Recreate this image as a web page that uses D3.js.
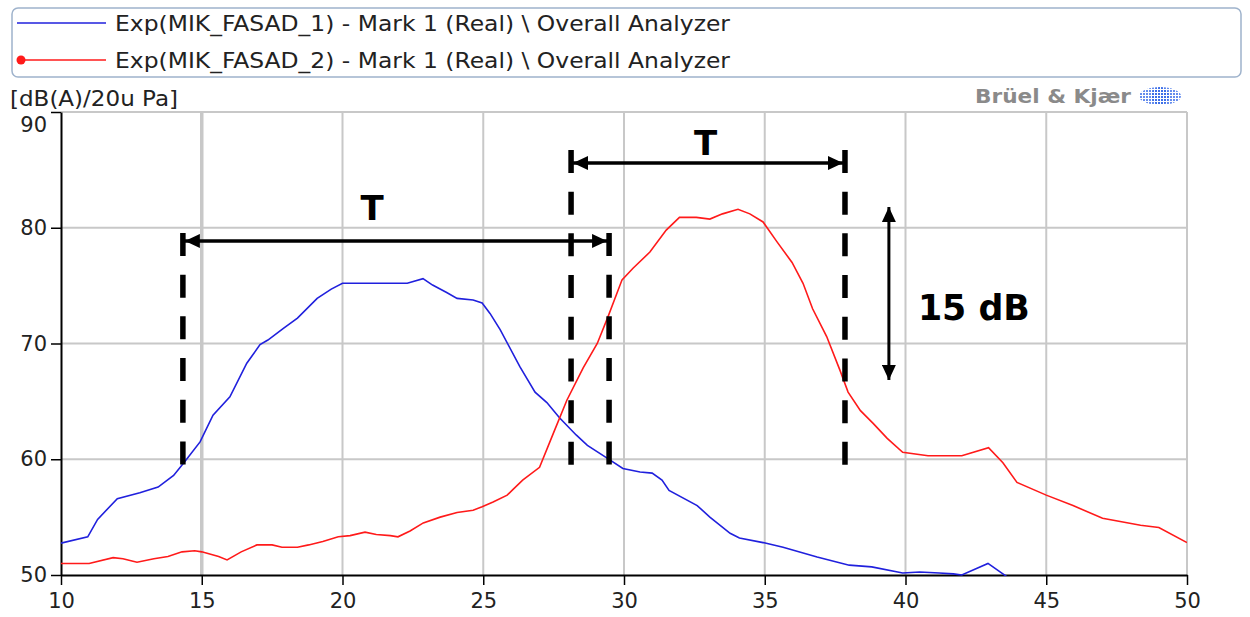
<!DOCTYPE html>
<html>
<head>
<meta charset="utf-8">
<script src="https://cdn.jsdelivr.net/npm/d3@7"></script>
<style>
  body { margin: 0; background: #fff; }
  text { font-family: "DejaVu Sans", sans-serif; }
</style>
</head>
<body>
<div class="d3-container"></div>
<script>
// series 1 (blue) - x in seconds, y in dB(A)
const blueX = [10.0, 10.95, 11.3, 12.0, 12.8, 13.45, 14.0, 14.4, 14.94, 15.4, 16.0, 16.6, 17.07, 17.35, 17.9, 18.4, 19.1, 19.6, 20.0, 22.3, 22.86, 23.2, 23.7, 24.07, 24.64, 24.96, 25.24, 25.6, 26.3, 26.84, 27.26, 27.7, 28.3, 28.7, 29.4, 29.96, 30.57, 31.0, 31.35, 31.6, 32.6, 33.05, 33.77, 34.1, 34.94, 35.65, 36.86, 38.0, 38.8, 39.9, 40.5, 41.2, 41.7, 42.0, 42.93, 43.46, 43.8];
const blueY = [52.75, 53.3, 54.8, 56.6, 57.1, 57.6, 58.6, 59.8, 61.5, 63.8, 65.4, 68.3, 69.9, 70.3, 71.3, 72.2, 73.9, 74.7, 75.2, 75.2, 75.6, 75.05, 74.4, 73.9, 73.76, 73.5, 72.6, 71.2, 68.0, 65.8, 64.9, 63.6, 62.1, 61.2, 60.1, 59.2, 58.9, 58.8, 58.2, 57.3, 56.0, 55.0, 53.6, 53.2, 52.8, 52.4, 51.55, 50.85, 50.7, 50.17, 50.26, 50.17, 50.1, 50.0, 51.0, 50.1, 49.5];

// series 2 (red)
const redX = [10.0, 11.0, 11.85, 12.2, 12.7, 13.3, 13.8, 14.3, 14.75, 15.0, 15.6, 15.9, 16.4, 16.96, 17.5, 17.85, 18.4, 18.8, 19.3, 19.85, 20.27, 20.8, 21.2, 21.7, 21.97, 22.4, 22.87, 23.47, 24.07, 24.64, 24.96, 25.35, 25.85, 26.06, 26.4, 27.0, 27.5, 27.97, 28.55, 29.05, 29.43, 29.93, 30.32, 30.92, 31.5, 31.97, 32.57, 33.05, 33.5, 34.05, 34.47, 34.94, 35.43, 35.97, 36.36, 36.7, 37.2, 37.67, 37.96, 38.4, 38.85, 39.35, 39.9, 40.8, 42.0, 42.95, 43.46, 43.96, 45.0, 45.95, 47.0, 48.35, 49.0, 50.0];
const redY = [51.0, 51.0, 51.5, 51.4, 51.1, 51.4, 51.6, 52.0, 52.1, 52.0, 51.6, 51.3, 52.0, 52.6, 52.6, 52.4, 52.4, 52.6, 52.9, 53.3, 53.4, 53.7, 53.5, 53.4, 53.3, 53.8, 54.5, 55.0, 55.4, 55.6, 55.9, 56.3, 56.9, 57.4, 58.2, 59.3, 62.3, 65.1, 67.9, 70.0, 72.3, 75.5, 76.5, 77.9, 79.8, 80.9, 80.9, 80.75, 81.2, 81.6, 81.2, 80.5, 78.8, 77.0, 75.2, 73.0, 70.6, 67.7, 65.8, 64.2, 63.1, 61.8, 60.6, 60.3, 60.3, 61.0, 59.7, 58.0, 56.9, 56.0, 54.9, 54.3, 54.1, 52.8];

const seriesNames = [
  "Exp(MIK_FASAD_1) - Mark 1 (Real) \\ Overall Analyzer",
  "Exp(MIK_FASAD_2) - Mark 1 (Real) \\ Overall Analyzer"
];
const xTicks = [10, 15, 20, 25, 30, 35, 40, 45, 50];
const yTicks = [50, 60, 70, 80, 90];
const yUnit = "[dB(A)/20u Pa]";

// annotations, in data units
const dashX = [14.33, 28.12, 29.47, 37.85];
const dashTop = [79.55, 86.72, 79.55, 86.72];
const dashBottom = [59.33, 59.33, 59.33, 59.33];
const spanFrom = [14.33, 28.12];
const spanTo = [29.47, 37.85];
const spanY = [78.86, 85.59];
const spanLabelX = [21.05, 32.9];
const spanLabelY = [81.7, 87.3];
const dbArrowX = 39.41, dbArrowTop = 81.79, dbArrowBottom = 66.85;
const dbLabel = "15 dB", dbLabelX = 40.44, dbLabelY = 73.07;

const W = 1250, H = 617;
const margin = {top: 112, right: 63, bottom: 42, left: 61};
const width = W - margin.left - margin.right,
      height = H - margin.top - margin.bottom;

const root = d3.select(".d3-container").append("svg")
  .attr("width", W).attr("height", H);

const defs = root.append("defs");
defs.append("marker").attr("id", "head")
  .attr("viewBox", "0 0 15 14").attr("refX", 15).attr("refY", 7)
  .attr("markerWidth", 15).attr("markerHeight", 14)
  .attr("markerUnits", "userSpaceOnUse")
  .attr("orient", "auto-start-reverse")
  .append("path").attr("d", "M0,0L15,7L0,14Z").attr("fill", "#000");
const pat = defs.append("pattern").attr("id", "dots")
  .attr("width", 3).attr("height", 3).attr("patternUnits", "userSpaceOnUse");
pat.append("rect").attr("width", 2).attr("height", 2).attr("fill", "#3d6fe8");
defs.append("clipPath").attr("id", "plotclip")
  .append("rect").attr("width", width).attr("height", height + 1);

// legend
root.append("rect").attr("x", 12).attr("y", 8).attr("width", 1229).attr("height", 69)
  .attr("rx", 6).attr("fill", "#fff").attr("stroke", "#9fb3cc").attr("stroke-width", 1.5);
const legendColors = ["#2020dd", "#ff1a1a"];
const legendY = [23, 60];
seriesNames.forEach((name, i) => {
  root.append("line").attr("x1", 17).attr("x2", 106)
    .attr("y1", legendY[i]).attr("y2", legendY[i])
    .attr("stroke", legendColors[i]).attr("stroke-width", 1.5);
  if (i === 1) root.append("circle").attr("cx", 21).attr("cy", legendY[i]).attr("r", 4.5).attr("fill", legendColors[i]);
  root.append("text").attr("x", 115).attr("y", legendY[i] + 8)
    .attr("font-size", 22).attr("fill", "#222")
    .attr("textLength", 615).attr("lengthAdjust", "spacingAndGlyphs")
    .text(name);
});

root.append("text").attr("x", 10).attr("y", 106).attr("font-size", 22).attr("fill", "#222")
  .attr("textLength", 168).attr("lengthAdjust", "spacingAndGlyphs").text(yUnit);

// Bruel & Kjaer logo
root.append("text").attr("x", 1131).attr("y", 103).attr("text-anchor", "end")
  .attr("font-size", 20).attr("font-weight", "bold").attr("fill", "#8a8a8a")
  .attr("textLength", 156).attr("lengthAdjust", "spacingAndGlyphs")
  .text("Brüel & Kjær");
root.append("ellipse").attr("cx", 1160).attr("cy", 96).attr("rx", 21).attr("ry", 9)
  .attr("fill", "url(#dots)").attr("opacity", 0.8);
root.append("ellipse").attr("cx", 1160).attr("cy", 96).attr("rx", 9).attr("ry", 9)
  .attr("fill", "url(#dots)");

const svg = root.append("g").attr("transform", `translate(${margin.left},${margin.top})`);

const x = d3.scaleLinear().domain([10, 50]).range([0, width]);
const y = d3.scaleLinear().domain([50, 90]).range([height, 0]);

// grid
svg.append("g").selectAll("line").data(xTicks.slice(1)).join("line")
  .attr("x1", d => x(d)).attr("x2", d => x(d)).attr("y1", 0).attr("y2", height)
  .attr("stroke", "#c8c8c8").attr("stroke-width", d => d === 15 ? 3.5 : 2);
svg.append("g").selectAll("line").data(yTicks.slice(1)).join("line")
  .attr("x1", 0).attr("x2", width).attr("y1", d => y(d)).attr("y2", d => y(d))
  .attr("stroke", "#c8c8c8").attr("stroke-width", 2);

// axes
const xAxis = svg.append("g").attr("transform", `translate(0,${height})`)
  .call(d3.axisBottom(x).tickValues(xTicks).tickSize(10).tickSizeOuter(0).tickPadding(8));
const yAxis = svg.append("g")
  .call(d3.axisLeft(y).tickValues(yTicks).tickSize(10).tickSizeOuter(0).tickPadding(4));
[xAxis, yAxis].forEach(a => {
  a.select(".domain").attr("stroke", "#000").attr("stroke-width", 2);
  a.selectAll(".tick line").attr("stroke", "#000").attr("stroke-width", 1.5);
  a.selectAll(".tick text").attr("font-size", 21).attr("fill", "#222")
    .attr("font-family", "DejaVu Sans");
});
yAxis.selectAll(".tick text").filter(d => d === 90).attr("dy", "0.95em");

// curves
const line = d3.line().x(d => x(d[0])).y(d => y(d[1]));
const curves = svg.append("g").attr("clip-path", "url(#plotclip)");
curves.append("path").datum(d3.zip(blueX, blueY)).attr("d", line)
  .attr("fill", "none").attr("stroke", legendColors[0]).attr("stroke-width", 1.6);
curves.append("path").datum(d3.zip(redX, redY)).attr("d", line)
  .attr("fill", "none").attr("stroke", legendColors[1]).attr("stroke-width", 1.6);

// annotations
const ann = svg.append("g");
ann.selectAll("line.dash").data(d3.range(dashX.length)).join("line")
  .attr("class", "dash")
  .attr("x1", i => x(dashX[i])).attr("x2", i => x(dashX[i]))
  .attr("y1", i => y(dashTop[i])).attr("y2", i => y(dashBottom[i]))
  .attr("stroke", "#000").attr("stroke-width", 5.5).attr("stroke-dasharray", "23,18.7");
ann.selectAll("line.span").data(d3.range(spanFrom.length)).join("line")
  .attr("class", "span")
  .attr("x1", i => x(spanFrom[i]) + 2).attr("x2", i => x(spanTo[i]) - 2)
  .attr("y1", i => y(spanY[i])).attr("y2", i => y(spanY[i]))
  .attr("stroke", "#000").attr("stroke-width", 3.5)
  .attr("marker-start", "url(#head)").attr("marker-end", "url(#head)");
ann.selectAll("text.T").data(d3.range(spanLabelX.length)).join("text")
  .attr("class", "T")
  .attr("x", i => x(spanLabelX[i])).attr("y", i => y(spanLabelY[i]))
  .attr("text-anchor", "middle").attr("dominant-baseline", "central")
  .attr("font-family", "Open Sans").attr("font-weight", 600).attr("font-size", 34)
  .text("T");
ann.append("line")
  .attr("x1", x(dbArrowX)).attr("x2", x(dbArrowX))
  .attr("y1", y(dbArrowTop)).attr("y2", y(dbArrowBottom))
  .attr("stroke", "#000").attr("stroke-width", 3)
  .attr("marker-start", "url(#head)").attr("marker-end", "url(#head)");
ann.append("text").attr("x", x(dbLabelX)).attr("y", y(dbLabelY))
  .attr("dominant-baseline", "central")
  .attr("font-family", "Open Sans").attr("font-weight", 600).attr("font-size", 36)
  .attr("textLength", 112).attr("lengthAdjust", "spacingAndGlyphs")
  .text(dbLabel);
</script>
</body>
</html>
